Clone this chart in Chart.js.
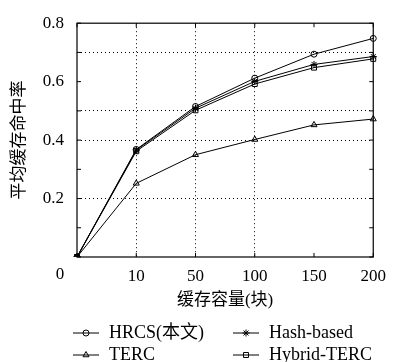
<!DOCTYPE html>
<html>
<head>
<meta charset="utf-8">
<script src="https://cdn.jsdelivr.net/npm/chart.js@4.4.1/dist/chart.umd.min.js"></script>
<style>
  html, body { margin: 0; padding: 0; background: #fff; }
  #wrap { width: 395px; height: 362px; position: relative; }
</style>
</head>
<body>
<div id="wrap"><canvas id="c"></canvas></div>
<script>
// cache size categories (x axis)
const categories = ['0', '10', '50', '100', '150', '200'];

// average cache hit ratio per scheme
const hrcs   = [0, 0.368, 0.515, 0.612, 0.694, 0.748];
const hash   = [0, 0.366, 0.509, 0.601, 0.659, 0.686];
const terc   = [0, 0.252, 0.350, 0.402, 0.452, 0.472];
const hybrid = [0, 0.362, 0.502, 0.592, 0.648, 0.678];

const seriesNames = ['HRCS(本文)', 'Hash-based', 'TERC', 'Hybrid-TERC'];

// where the dotted grid lines are drawn
const yGridAt = [0.2, 0.4, 0.5, 0.7];
const xGridAt = ['10', '50', '100'];

const serif = '"Liberation Serif", "Noto Sans CJK SC", serif';

function series(label, values, style, radius) {
    return {
        label: label,
        data: values,
        borderColor: '#000',
        borderWidth: 1,
        pointStyle: style,
        pointRadius: radius,
        pointBorderColor: '#000',
        pointBorderWidth: 1,
        pointBackgroundColor: 'rgba(0,0,0,0)',
        tension: 0,
        fill: false
    };
}

// box, inward ticks, corner "0" and the 2x2 legend
const framePlugin = {
    id: 'frame',
    afterDraw(chart) {
        const {ctx, chartArea: a, scales} = chart;
        ctx.save();
        ctx.strokeStyle = '#000';
        ctx.lineWidth = 1.2;
        ctx.strokeRect(a.left, a.top, a.right - a.left, a.bottom - a.top);

        ctx.lineWidth = 1;
        ctx.beginPath();
        scales.y.ticks.forEach(t => {
            const y = scales.y.getPixelForValue(t.value);
            ctx.moveTo(a.left, y); ctx.lineTo(a.left + 4, y);
            ctx.moveTo(a.right, y); ctx.lineTo(a.right - 4, y);
        });
        scales.x.ticks.forEach((t, i) => {
            const x = scales.x.getPixelForTick(i);
            ctx.moveTo(x, a.bottom); ctx.lineTo(x, a.bottom - 4);
            ctx.moveTo(x, a.top); ctx.lineTo(x, a.top + 4);
        });
        ctx.stroke();

        ctx.fillStyle = '#000';
        ctx.font = '17px ' + serif;
        ctx.textAlign = 'center';
        ctx.textBaseline = 'middle';
        ctx.fillText(categories[0], a.left - 17, a.bottom + 18);

        // legend
        const cols = [73, 233];
        const rows = [333, 355];
        ctx.font = '18px ' + serif;
        ctx.textAlign = 'left';
        chart.data.datasets.forEach((ds, i) => {
            const x = cols[i % 2];
            const y = rows[Math.floor(i / 2)];
            ctx.beginPath();
            ctx.moveTo(x, y); ctx.lineTo(x + 26, y);
            ctx.stroke();
            ctx.fillStyle = 'rgba(0,0,0,0)';
            Chart.helpers.drawPoint(ctx, {pointStyle: ds.pointStyle, radius: ds.pointRadius, rotation: 0, borderWidth: 1}, x + 13, y);
            ctx.fillStyle = '#000';
            ctx.fillText(ds.label, x + 36, y);
        });
        ctx.restore();
    }
};

new Chart(document.getElementById('c'), {
    type: 'line',
    data: {
        labels: categories,
        datasets: [
            series(seriesNames[0], hrcs, 'circle', 3),
            series(seriesNames[1], hash, 'star', 3.5),
            series(seriesNames[2], terc, 'triangle', 3.5),
            series(seriesNames[3], hybrid, 'rect', 3.5)
        ]
    },
    options: {
        responsive: true,
        maintainAspectRatio: false,
        animation: false,
        layout: { padding: { left: 0, top: 18, right: 14, bottom: 51 } },
        plugins: {
            legend: { display: false },
            tooltip: { enabled: false }
        },
        scales: {
            x: {
                type: 'category',
                offset: false,
                grid: {
                    color: c => xGridAt.includes(categories[c.index]) ? '#000' : 'rgba(0,0,0,0)',
                    lineWidth: 1,
                    drawTicks: false
                },
                border: { display: false, dash: [1, 3] },
                ticks: {
                    color: '#000',
                    font: { family: serif, size: 17 },
                    padding: 9,
                    maxRotation: 0,
                    autoSkip: false,
                    callback: (v, i) => i === 0 ? '' : categories[i]
                },
                title: {
                    display: true,
                    text: '缓存容量(块)',
                    color: '#000',
                    font: { family: serif, size: 17 },
                    padding: { top: 0, bottom: 0 }
                },
                afterFit: s => { s.height = 54; }
            },
            y: {
                min: 0,
                max: 0.8,
                grid: {
                    color: c => yGridAt.some(g => Math.abs(g - c.tick.value) < 1e-6) ? '#000' : 'rgba(0,0,0,0)',
                    lineWidth: 1,
                    drawTicks: false
                },
                border: { display: false, dash: [1, 3] },
                ticks: {
                    stepSize: 0.1,
                    color: '#000',
                    font: { family: serif, size: 17 },
                    padding: 13,
                    callback: v => {
                        const k = Math.round(v * 10);
                        return (k > 0 && k % 2 === 0) ? (k / 10).toFixed(1) : '';
                    }
                },
                title: {
                    display: true,
                    text: '平均缓存命中率',
                    color: '#000',
                    font: { family: serif, size: 17 },
                    padding: { top: 9, bottom: 0 }
                },
                afterFit: s => { s.width = 77; }
            }
        }
    },
    plugins: [framePlugin]
});
</script>
</body>
</html>
